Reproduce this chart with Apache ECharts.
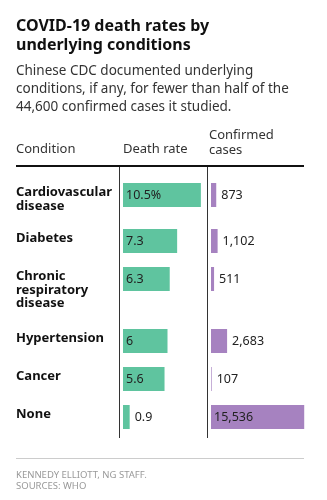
<!DOCTYPE html>
<html>
<head>
<meta charset="utf-8">
<script src="https://cdn.jsdelivr.net/npm/echarts@6/dist/echarts.min.js"></script>
<style>
  html, body { margin: 0; padding: 0; background: #fff; }
  #chart { width: 327px; height: 500px; }
</style>
</head>
<body>
<div id="chart"></div>
<script>
// Death rate and confirmed case counts by underlying condition
const conditions = ['Cardiovascular\ndisease', 'Diabetes', 'Chronic\nrespiratory\ndisease', 'Hypertension', 'Cancer', 'None'];
const deathRates = [10.5, 7.3, 6.3, 6, 5.6, 0.9];
const deathRateLabels = ['10.5%', '7.3', '6.3', '6', '5.6', '0.9'];
const confirmedCases = [873, 1102, 511, 2683, 107, 15536];
const caseLabels = ['873', '1,102', '511', '2,683', '107', '15,536'];

const FONT = '"Noto Sans", sans-serif';
const GREEN = '#5fc49f';
const PURPLE = '#a682c0';
const INK = '#222';

// Table geometry
const leftX = 16, rightX = 304;
const rateX = 123, rateW = 89, rateMax = 12;
const caseX = 211, caseW = 96, caseMax = 16000;
const barH = 24, lineH = 16, rowGap = 14, firstRowTop = 183;

// Row tops grow with the number of lines in each condition name
const rowTops = [];
let y = firstRowTop;
conditions.forEach(function (c) {
  rowTops.push(y);
  const lines = c.split('\n').length;
  y += Math.max(barH, lines * lineH) + rowGap;
});

const grids = [], xAxes = [], yAxes = [], series = [];

function barLabel(text, pxWidth) {
  const inside = pxWidth > 30;
  return {
    show: true,
    position: inside ? 'insideLeft' : 'right',
    distance: inside ? 3 : 5,
    formatter: text,
    color: INK,
    fontFamily: FONT,
    fontSize: 12.5
  };
}

conditions.forEach(function (c, i) {
  [
    { x: rateX, w: rateW, max: rateMax, val: deathRates[i], text: deathRateLabels[i], color: GREEN },
    { x: caseX, w: caseW, max: caseMax, val: confirmedCases[i], text: caseLabels[i], color: PURPLE }
  ].forEach(function (col) {
    const idx = grids.length;
    grids.push({ left: col.x, top: rowTops[i], width: col.w, height: barH, containLabel: false });
    xAxes.push({ type: 'value', gridIndex: idx, min: 0, max: col.max, show: false });
    yAxes.push({ type: 'category', gridIndex: idx, data: [c], show: false });
    series.push({
      type: 'bar',
      xAxisIndex: idx,
      yAxisIndex: idx,
      barWidth: barH,
      silent: true,
      animation: false,
      itemStyle: { color: col.color },
      label: barLabel(col.text, col.val / col.max * col.w),
      data: [col.val]
    });
  });
});

const tableBottom = 438;
const graphic = [
  { type: 'text', left: leftX, top: 17, style: { text: 'COVID-19 death rates by\nunderlying conditions', font: 'bold 16px ' + FONT, fill: '#111', lineHeight: 19 } },
  { type: 'text', left: leftX, top: 62, style: { text: 'Chinese CDC documented underlying\nconditions, if any, for fewer than half of the\n44,600 confirmed cases it studied.', font: '13.5px ' + FONT, fill: '#333', lineHeight: 18 } },
  { type: 'text', left: leftX, top: 143, style: { text: 'Condition', font: '13px ' + FONT, fill: '#333' } },
  { type: 'text', left: rateX, top: 143, style: { text: 'Death rate', font: '13px ' + FONT, fill: '#333' } },
  { type: 'text', left: caseX - 2, top: 128, style: { text: 'Confirmed\ncases', font: '13px ' + FONT, fill: '#333', lineHeight: 15 } },
  { type: 'rect', shape: { x: leftX, y: 165, width: rightX - leftX, height: 2 }, style: { fill: '#111' } },
  { type: 'line', shape: { x1: 119.5, y1: 167, x2: 119.5, y2: tableBottom }, style: { stroke: '#333', lineWidth: 1 } },
  { type: 'line', shape: { x1: 207.5, y1: 167, x2: 207.5, y2: tableBottom }, style: { stroke: '#333', lineWidth: 1 } },
  { type: 'rect', shape: { x: leftX, y: 458, width: rightX - leftX, height: 1 }, style: { fill: '#ccc' } },
  { type: 'text', left: leftX, top: 470, style: { text: 'KENNEDY ELLIOTT, NG STAFF.\nSOURCES: WHO', font: '9.5px ' + FONT, fill: '#999', lineHeight: 11 } }
];

// Condition names, top-aligned with each row
conditions.forEach(function (c, i) {
  graphic.push({ type: 'text', left: leftX, top: rowTops[i] + 3, style: { text: c, font: 'bold 13px ' + FONT, fill: '#111', lineHeight: 13.5 } });
});

const chart = echarts.init(document.getElementById('chart'), null, { renderer: 'canvas' });
chart.setOption({
  animation: false,
  grid: grids,
  xAxis: xAxes,
  yAxis: yAxes,
  series: series,
  graphic: graphic
});
</script>
</body>
</html>
